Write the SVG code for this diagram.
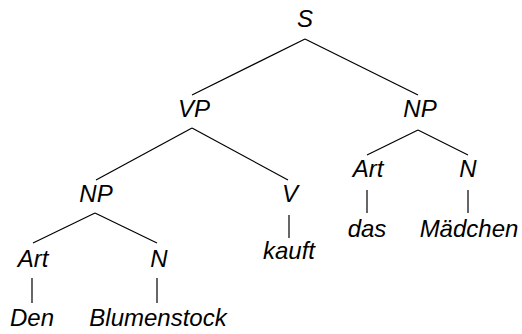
<svg xmlns="http://www.w3.org/2000/svg" width="522" height="334" viewBox="0 0 522 334">
<style>
text{font-family:"Liberation Sans",Arial,sans-serif;font-style:italic;font-size:24px;fill:#000;text-anchor:middle}
line{stroke:#000;stroke-width:1.2}
</style>
<rect width="522" height="334" fill="#fff"/>
<g id="connectors">
<line x1="305" y1="39" x2="192" y2="95"/>
<line x1="305" y1="39" x2="418" y2="95"/>
<line x1="192" y1="128" x2="96" y2="180"/>
<line x1="192" y1="128" x2="288" y2="180"/>
<line x1="95" y1="213" x2="33" y2="243"/>
<line x1="95" y1="213" x2="157" y2="243"/>
<line x1="32" y1="278" x2="32" y2="303"/>
<line x1="157" y1="278" x2="157" y2="303"/>
<line x1="289" y1="215" x2="289" y2="238"/>
<line x1="418" y1="130" x2="367" y2="155"/>
<line x1="418" y1="130" x2="468" y2="155"/>
<line x1="367" y1="190" x2="367" y2="213"/>
<line x1="468" y1="190" x2="468" y2="213"/>
</g>
<g id="n-S"><text x="305" y="27">S</text></g>
<g id="n-VP"><text x="194" y="117">VP</text></g>
<g id="n-NP2"><text x="420" y="117">NP</text></g>
<g id="n-NP1"><text x="96" y="202">NP</text></g>
<g id="n-V"><text x="290" y="202">V</text></g>
<g id="n-kauft"><text x="289" y="259">kauft</text></g>
<g id="n-Art1"><text x="33" y="267">Art</text></g>
<g id="n-N1"><text x="159" y="267">N</text></g>
<g id="n-Den"><text x="32" y="326">Den</text></g>
<g id="n-Blumenstock"><text x="158" y="326">Blumenstock</text></g>
<g id="n-Art2"><text x="368" y="177">Art</text></g>
<g id="n-N2"><text x="468" y="177">N</text></g>
<g id="n-das"><text x="367" y="237">das</text></g>
<g id="n-Maedchen"><text x="469" y="237">Mädchen</text></g>
</svg>
